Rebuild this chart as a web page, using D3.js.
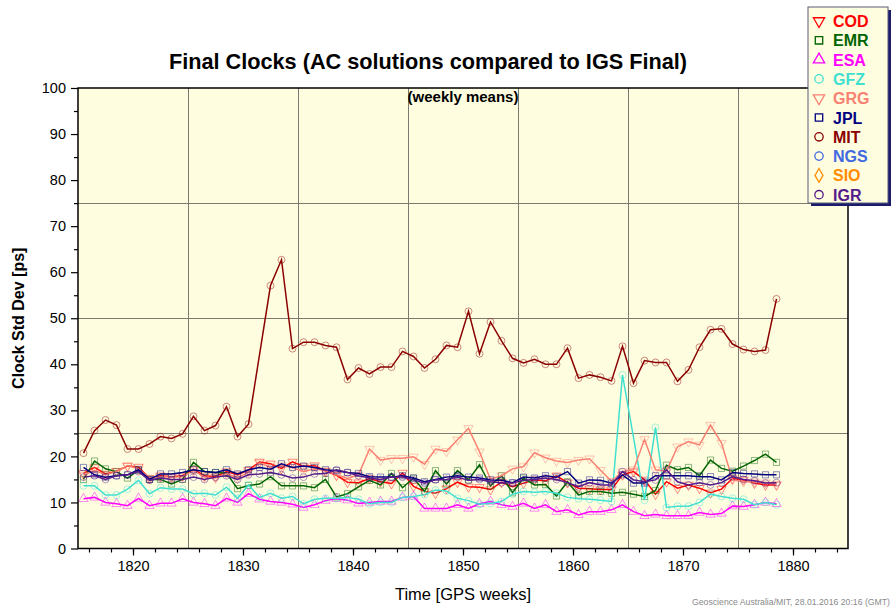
<!DOCTYPE html>
<html>
<head>
<meta charset="utf-8">
<script src="https://cdn.jsdelivr.net/npm/d3@7"></script>
<style>
  body { margin: 0; background: #fff; }
  text { font-family: "Liberation Sans", Arial, sans-serif; }
</style>
</head>
<body>
<div id="chart"></div>
<script>
// GPS weeks 1815 .. 1878
var weeks = d3.range(1815, 1879);

var cod = [16.3, 17.6, 16.2, 16.8, 17.9, 17.7, 15.2, 15.8, 15.6, 15.8, 17.2, 15.8, 15.6, 16.7, 16.0, 17.0,
  18.8, 18.4, 17.4, 18.8, 17.8, 18.0, 16.8, 15.9, 14.4, 14.3, 15.2, 14.5, 14.1, 16.4, 13.5, 12.4,
  12.0, 13.0, 14.4, 13.4, 13.3, 12.8, 14.4, 13.4, 14.2, 14.9, 14.7, 15.8, 14.3, 13.1, 13.0, 12.8,
  12.8, 16.0, 16.7, 14.9, 11.8, 14.5, 13.1, 13.8, 13.1, 12.1, 12.9, 15.2, 14.9, 14.2, 13.8, 13.8];
var emr = [15.0, 19.0, 17.3, 16.7, 15.3, 17.0, 15.0, 15.0, 14.0, 15.0, 18.7, 16.7, 16.5, 16.4, 13.0, 13.7,
  14.0, 15.6, 13.6, 13.6, 13.6, 13.2, 15.0, 11.2, 11.9, 13.4, 14.8, 13.8, 16.3, 13.2, 15.3, 12.4,
  16.9, 14.0, 16.9, 14.9, 18.2, 13.6, 15.8, 12.1, 15.3, 13.8, 13.9, 11.4, 14.5, 11.6, 12.4, 12.4,
  12.0, 12.2, 11.8, 11.3, 12.6, 18.1, 17.1, 17.6, 15.8, 19.2, 17.4, 16.8, 17.9, 19.1, 20.5, 18.7];
var esa = [10.8, 11.1, 10.0, 9.7, 9.3, 10.9, 9.3, 9.8, 9.8, 10.8, 10.0, 9.7, 9.3, 10.9, 10.0, 11.9,
  10.7, 10.2, 10.0, 9.6, 8.9, 9.5, 10.4, 10.8, 10.5, 9.8, 10.0, 10.2, 10.2, 11.1, 11.3, 8.7,
  8.7, 8.7, 9.5, 8.7, 9.7, 10.2, 9.5, 9.1, 9.8, 8.7, 9.5, 8.0, 8.4, 7.3, 8.0, 8.0,
  8.4, 9.5, 8.0, 7.1, 7.4, 7.1, 7.1, 7.1, 7.8, 7.4, 7.6, 9.2, 9.1, 9.5, 10.0, 9.7];
var gfz = [13.6, 13.6, 11.6, 11.6, 12.9, 14.8, 11.9, 13.2, 12.9, 12.9, 11.9, 12.0, 11.6, 13.3, 10.9, 13.8,
  11.1, 12.0, 10.9, 11.3, 9.7, 10.7, 10.9, 10.9, 11.1, 10.7, 9.7, 10.0, 10.0, 11.1, 11.3, 11.7,
  12.7, 12.5, 10.9, 10.4, 9.6, 9.8, 10.2, 11.8, 12.4, 12.2, 12.4, 12.0, 11.1, 10.8, 10.7, 10.5,
  10.2, 37.7, null, 10.5, 26.3, 8.9, 9.2, 9.2, 10.0, 11.8, 11.3, 10.9, 10.7, 9.5, 10.0, 9.5];
var grg = [15.9, 17.0, 16.0, 16.7, 18.0, 17.3, 15.3, 15.6, 15.5, 15.6, 16.9, 15.5, 15.3, 16.3, 15.3, 16.6,
  18.6, 17.6, 18.0, 17.6, 16.7, 17.3, 16.9, 16.0, 15.2, 16.0, 21.6, 19.2, 19.6, 19.6, 19.9, 18.3,
  21.6, 21.1, 23.6, 26.1, 21.0, 15.0, 15.8, 17.3, 17.8, 20.8, 19.7, 19.0, 18.7, 19.2, 19.5, 17.0,
  14.6, 16.7, 17.1, 23.7, 17.1, 16.8, 22.1, 23.2, 22.5, 26.8, 22.9, 14.9, 14.5, 14.5, 14.3, 14.0];
var jpl = [17.6, 16.0, 15.5, 15.8, 16.0, 17.1, 15.0, 16.2, 16.2, 16.5, 17.1, 16.7, 16.5, 17.1, 16.2, 17.1,
  17.6, 17.2, 18.4, 17.6, 17.9, 17.6, 17.1, 16.9, 16.5, 16.3, 15.6, 15.5, 15.5, 15.8, 15.3, 14.5,
  15.0, 15.5, 15.8, 15.5, 15.3, 14.9, 14.8, 14.3, 15.5, 15.3, 15.8, 15.5, 16.7, 14.2, 14.9, 14.8,
  14.2, 16.0, 14.2, 14.2, 15.8, 15.8, 15.8, 15.8, 15.6, 15.6, 14.9, 16.5, 16.3, 16.2, 16.0, 16.0];
var mit = [20.7, 25.6, 27.9, 26.8, 21.6, 21.6, 22.7, 24.3, 23.9, 24.9, 28.7, 25.6, 26.7, 30.8, 24.3, 27.0,
  null, 57.1, 62.7, 43.4, 44.8, 44.8, 44.1, 43.7, 36.7, 39.2, 37.9, 39.4, 39.4, 42.8, 41.7, 39.2,
  41.1, 44.1, 43.7, 51.5, 42.3, 49.2, 45.1, 41.3, 40.3, 41.1, 40.0, 40.0, 43.5, 37.0, 37.7, 37.2,
  36.4, 43.9, 35.9, 40.8, 40.4, 40.4, 36.3, 38.8, 43.7, 47.5, 47.7, 44.4, 43.2, 42.8, 43.1, 54.2];
var ngs = [];
var sio = [];
var igr = [15.5, 15.8, 15.0, 15.8, 16.0, 16.7, 14.8, 15.3, 15.0, 15.0, 15.5, 15.0, 15.5, 15.8, 15.0, 16.0,
  16.2, 16.5, 16.0, 15.3, 15.5, 16.2, 16.3, 17.1, 16.5, 15.8, 15.3, 15.0, 15.5, 15.5, 14.9, 14.2,
  14.9, 15.0, 15.5, 14.8, 15.0, 14.5, 14.3, 14.2, 14.8, 15.0, 15.3, 15.0, 14.3, 13.4, 14.3, 13.8,
  13.8, 16.7, 14.9, 14.5, 14.9, 17.1, 14.5, 13.8, 14.3, 13.8, 14.3, 15.6, 15.0, 14.7, 14.2, 14.3];

var centers = ["COD", "EMR", "ESA", "GFZ", "GRG", "JPL", "MIT", "NGS", "SIO", "IGR"];
var values = [cod, emr, esa, gfz, grg, jpl, mit, ngs, sio, igr];
var colors = ["#ff0000", "#006400", "#ff00ff", "#40e0d0", "#fa8072", "#000080", "#8b0000", "#4169e1", "#ff8c00", "#551a8b"];
var shapes = ["down", "square", "up", "circle", "down", "square", "circle", "circle", "diamond", "circle"];

var yTicks = d3.range(0, 101, 10);
var xTicks = [1820, 1830, 1840, 1850, 1860, 1870, 1880];

var W = 893, H = 613;
var mLeft = 78, mRight = 848, mTop = 88, mBottom = 548.5;

var svg = d3.select("#chart").append("svg")
  .attr("width", W).attr("height", H);

var x = d3.scaleLinear().domain([1815, 1885]).range([mLeft, mRight]);
var y = d3.scaleLinear().domain([0, 100]).range([mBottom, mTop]);

// plot background
svg.append("rect")
  .attr("x", mLeft).attr("y", mTop)
  .attr("width", mRight - mLeft).attr("height", mBottom - mTop)
  .attr("fill", "#fffde0");

// grid
var grid = svg.append("g").attr("stroke", "#7a7a70").attr("stroke-width", 1);
grid.selectAll("line.v").data(d3.range(1825, 1880, 10)).enter().append("line")
  .attr("x1", function(d) { return Math.round(x(d)) + 0.5; })
  .attr("x2", function(d) { return Math.round(x(d)) + 0.5; })
  .attr("y1", mTop).attr("y2", mBottom);
grid.selectAll("line.h").data([25, 50, 75]).enter().append("line")
  .attr("y1", function(d) { return Math.round(y(d)) + 0.5; })
  .attr("y2", function(d) { return Math.round(y(d)) + 0.5; })
  .attr("x1", mLeft).attr("x2", mRight);

// symbols
function symbolPath(shape, size) {
  var t = d3.symbolCircle;
  if (shape == "square") t = d3.symbolSquare;
  if (shape == "up" || shape == "down") t = d3.symbolTriangle;
  if (shape == "diamond") t = d3.symbolDiamond;
  return d3.symbol().type(t).size(size)();
}
function symbolTransform(shape, px, py) {
  var s = "translate(" + px + "," + py + ")";
  if (shape == "down") s += " rotate(180)";
  return s;
}

var line = d3.line()
  .x(function(d) { return x(d.w + 0.5); })
  .y(function(d) { return y(d.v); });

var plot = svg.append("g");
centers.forEach(function(name, i) {
  var pts = weeks.map(function(w, j) { return { w: w, v: values[i][j] }; })
    .filter(function(d) { return d.v != null; });
  if (pts.length == 0) return;
  var g = plot.append("g");
  g.selectAll("path.m").data(pts).enter().append("path")
    .attr("d", symbolPath(shapes[i], 38))
    .attr("transform", function(d) { return symbolTransform(shapes[i], x(d.w + 0.5), y(d.v)); })
    .attr("fill", "none")
    .attr("stroke", colors[i])
    .attr("stroke-opacity", 0.45)
    .attr("stroke-width", 1);
  g.append("path")
    .datum(pts)
    .attr("d", line)
    .attr("fill", "none")
    .attr("stroke", colors[i])
    .attr("stroke-width", 1.5);
});

// frame
svg.append("rect")
  .attr("x", mLeft).attr("y", mTop)
  .attr("width", mRight - mLeft).attr("height", mBottom - mTop)
  .attr("fill", "none").attr("stroke", "#000").attr("stroke-width", 1.5);

// axes
var xAxis = svg.append("g").attr("transform", "translate(0," + mBottom + ")");
xAxis.call(d3.axisBottom(x).tickValues(d3.range(1816, 1885, 2)).tickSize(4).tickFormat(""));
xAxis.append("g").call(d3.axisBottom(x).tickValues(xTicks).tickSize(7).tickPadding(5).tickFormat(d3.format("d")));
xAxis.selectAll(".domain").remove();
xAxis.selectAll("line").attr("stroke", "#000").attr("stroke-width", 1.2);
xAxis.selectAll("text").attr("font-size", 14.5).attr("fill", "#000");

var yAxis = svg.append("g").attr("transform", "translate(" + mLeft + ",0)");
yAxis.call(d3.axisLeft(y).tickValues(d3.range(5, 100, 10)).tickSize(4).tickFormat(""));
yAxis.append("g").call(d3.axisLeft(y).tickValues(yTicks).tickSize(7).tickPadding(5).tickFormat(d3.format("d")));
yAxis.selectAll(".domain").remove();
yAxis.selectAll("line").attr("stroke", "#000").attr("stroke-width", 1.2);
yAxis.selectAll("text").attr("font-size", 14.5).attr("fill", "#000");

// titles
svg.append("text").attr("x", 428).attr("y", 69)
  .attr("text-anchor", "middle").attr("font-size", 21.7).attr("font-weight", "bold")
  .text("Final Clocks (AC solutions compared to IGS Final)");
svg.append("text").attr("x", (mLeft + mRight) / 2).attr("y", 102)
  .attr("text-anchor", "middle").attr("font-size", 15).attr("font-weight", "bold")
  .text("(weekly means)");
svg.append("text").attr("x", (mLeft + mRight) / 2).attr("y", 600)
  .attr("text-anchor", "middle").attr("font-size", 16.5)
  .text("Time [GPS weeks]");
svg.append("text")
  .attr("transform", "translate(24," + ((mTop + mBottom) / 2) + ") rotate(-90)")
  .attr("text-anchor", "middle").attr("font-size", 16).attr("font-weight", "bold")
  .text("Clock Std Dev [ps]");
svg.append("text").attr("x", 890).attr("y", 605)
  .attr("text-anchor", "end").attr("font-size", 8.7).attr("fill", "#8a8a8a")
  .text("Geoscience Australia/MIT, 28.01.2016 20:16 (GMT)");

// legend
var lg = svg.append("g").attr("transform", "translate(808,7)");
lg.append("rect").attr("x", 3).attr("y", 3).attr("width", 80).attr("height", 196)
  .attr("fill", "#1c1c6c");
lg.append("rect").attr("x", 0).attr("y", 0).attr("width", 80).attr("height", 196)
  .attr("fill", "#fffde0").attr("stroke", "#5a5a7a").attr("stroke-width", 1);
var items = lg.selectAll("g.item").data(centers).enter().append("g")
  .attr("transform", function(d, i) { return "translate(0," + (14 + i * 19.3) + ")"; });
items.append("path")
  .attr("d", function(d, i) { return symbolPath(shapes[i], 55); })
  .attr("transform", function(d, i) { return symbolTransform(shapes[i], 11, 0); })
  .attr("fill", "none")
  .attr("stroke", function(d, i) { return colors[i]; })
  .attr("stroke-width", 1.3);
items.append("text")
  .attr("x", 25).attr("y", 6)
  .attr("font-size", 16).attr("font-weight", "bold")
  .attr("fill", function(d, i) { return colors[i]; })
  .text(function(d) { return d; });
</script>
</body>
</html>
